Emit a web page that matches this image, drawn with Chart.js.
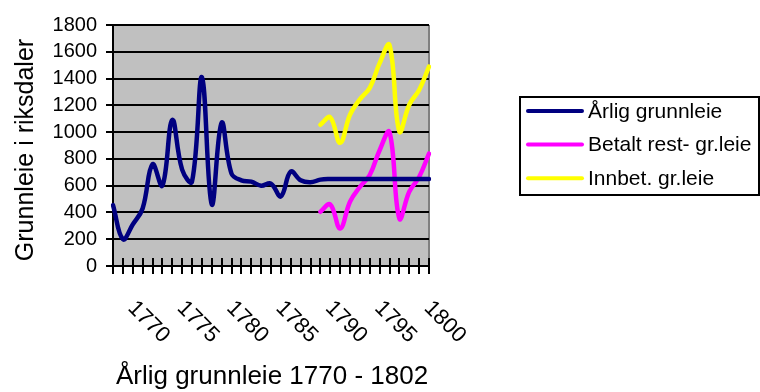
<!DOCTYPE html>
<html>
<head>
<meta charset="utf-8">
<title>Årlig grunnleie 1770 - 1802</title>
<script src="https://cdn.jsdelivr.net/npm/chart.js@4.4.1/dist/chart.umd.min.js"></script>
<style>
  html, body { margin:0; padding:0; background:#fff; }
  canvas { display:block; }
</style>
</head>
<body>
<canvas id="grunnleieChart" width="760" height="392"></canvas>
<script>
// --- DATA ---
const years = [1770,1771,1772,1773,1774,1775,1776,1777,1778,1779,1780,1781,1782,1783,1784,1785,
               1786,1787,1788,1789,1790,1791,1792,1793,1794,1795,1796,1797,1798,1799,1800,1801,1802];
const arligGrunnleie = [455,200,310,430,760,600,1090,720,630,1410,460,1070,690,640,630,600,
                        615,520,705,640,625,645,650,650,650,650,650,650,650,650,650,650,650];
const betaltRest = [null,null,null,null,null,null,null,null,null,null,null,null,null,null,null,null,
                    null,null,null,null,null,405,460,280,480,590,680,865,1000,355,555,665,840];
const innbetalt = [null,null,null,null,null,null,null,null,null,null,null,null,null,null,null,null,
                   null,null,null,null,null,1055,1110,920,1130,1245,1330,1515,1650,1005,1205,1315,1490];
const xLabelYears = [1770,1775,1780,1785,1790,1795,1800];
const seriesNames = ['Årlig grunnleie','Betalt rest- gr.leie','Innbet. gr.leie'];
const xTitle = 'Årlig grunnleie 1770 - 1802';
const yTitle = 'Grunnleie i riksdaler';

// --- STYLE ---
const FONT = '"Liberation Sans", Arial, sans-serif';
const PLOT_BG = '#C0C0C0';
const COLORS = ['#000080','#FF00FF','#FFFF00'];

// --- EXCEL-ISH DECORATIONS ---
const excelLook = {
    id: 'excelLook',
    beforeDraw(chart){
        const {ctx, chartArea:a} = chart;
        ctx.save();
        ctx.fillStyle = PLOT_BG;
        ctx.fillRect(a.left, a.top, a.right-a.left, a.bottom-a.top);
        ctx.strokeStyle = '#808080';
        ctx.lineWidth = 2;
        ctx.beginPath(); ctx.moveTo(a.right, a.top); ctx.lineTo(a.right, a.bottom); ctx.stroke();
        ctx.restore();
    },
    afterDraw(chart){
        const {ctx, chartArea:a} = chart;
        const xs = chart.scales.x;
        ctx.save();

        // crossing tick marks on the category axis
        ctx.strokeStyle = '#000';
        ctx.lineWidth = 2;
        years.forEach((yr,i)=>{
            const x = Math.round(xs.getPixelForValue(i));
            ctx.beginPath(); ctx.moveTo(x, a.bottom-8); ctx.lineTo(x, a.bottom+8); ctx.stroke();
        });

        // rotated year labels
        ctx.fillStyle = '#000';
        ctx.font = `22px ${FONT}`;
        ctx.textAlign = 'left';
        ctx.textBaseline = 'top';
        xLabelYears.forEach(yr=>{
            const x = xs.getPixelForValue(years.indexOf(yr));
            ctx.save();
            ctx.translate(x+26, 297);
            ctx.rotate(Math.PI/4);
            ctx.fillText(String(yr), 0, 0);
            ctx.restore();
        });

        // axis titles
        ctx.textBaseline = 'alphabetic';
        ctx.textAlign = 'center';
        ctx.font = `26px ${FONT}`;
        ctx.fillText(xTitle, (a.left+a.right)/2 + 1, 384);
        ctx.save();
        ctx.translate(33, 150);
        ctx.rotate(-Math.PI/2);
        ctx.font = `25px ${FONT}`;
        ctx.fillText(yTitle, 0, 0);
        ctx.restore();

        // legend box
        ctx.strokeStyle = '#000';
        ctx.lineWidth = 2;
        ctx.strokeRect(520, 97, 239, 98);
        ctx.font = `21px ${FONT}`;
        ctx.textAlign = 'left';
        ctx.textBaseline = 'middle';
        ctx.lineCap = 'round';
        chart.data.datasets.forEach((ds,i)=>{
            const y = 111 + i*33.6;
            ctx.strokeStyle = ds.borderColor;
            ctx.lineWidth = 4;
            ctx.beginPath(); ctx.moveTo(528, y); ctx.lineTo(582, y); ctx.stroke();
            ctx.fillStyle = '#000';
            ctx.fillText(ds.label, 588, y+1);
        });
        ctx.restore();
    }
};

function lineSet(label, data, color){
    return {
        label, data,
        borderColor: color,
        backgroundColor: color,
        borderWidth: 4.5,
        pointRadius: 0,
        pointHoverRadius: 0,
        tension: 0.4,
        borderCapStyle: 'round',
        borderJoinStyle: 'round',
        spanGaps: false
    };
}

new Chart(document.getElementById('grunnleieChart'), {
    type: 'line',
    data: {
        labels: years,
        datasets: [
            lineSet(seriesNames[0], arligGrunnleie, COLORS[0]),
            lineSet(seriesNames[1], betaltRest, COLORS[1]),
            lineSet(seriesNames[2], innbetalt, COLORS[2])
        ]
    },
    options: {
        responsive: false,
        animation: false,
        devicePixelRatio: 1,
        layout: { padding: { top:25, right:331, left:0, bottom:0 } },
        plugins: { legend:{ display:false }, tooltip:{ enabled:false } },
        scales: {
            x: {
                offset: false,
                grid: { display:false },
                border: { display:true, color:'#000', width:2 },
                ticks: { display:false },
                afterFit: s => { s.height = 126; }
            },
            y: {
                min: 0, max: 1800,
                ticks: {
                    stepSize:200, autoSkip:false, color:'#000', padding:9,
                    font:{ family:FONT, size:20 },
                    callback: v => String(v)
                },
                grid: { color:'#000', lineWidth:2, tickLength:7 },
                border: { color:'#000', width:2 },
                afterFit: s => { s.width = 113; }
            }
        }
    },
    plugins: [excelLook]
});
</script>
</body>
</html>
